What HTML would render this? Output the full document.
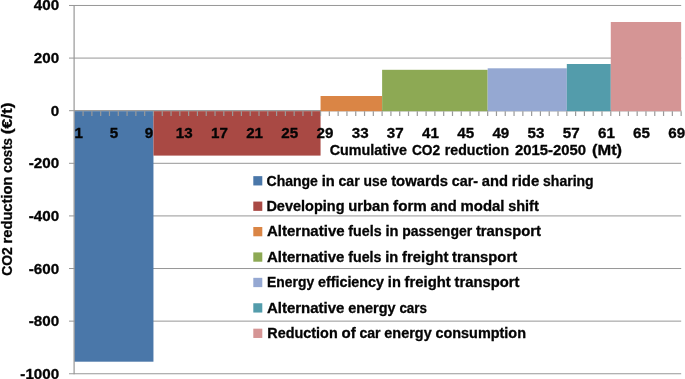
<!DOCTYPE html>
<html><head><meta charset="utf-8"><title>CO2 reduction costs</title>
<style>
html,body{margin:0;padding:0;background:#fff;overflow:hidden;}
svg{display:block;will-change:transform;}
text{font-family:"Liberation Sans",sans-serif;font-weight:bold;fill:#050505;font-size:14.2px;stroke:#050505;stroke-width:0.3px;}
</style></head><body>
<svg width="685" height="379" viewBox="0 0 685 379">
<rect width="685" height="379" fill="#fff"/>

<g stroke="#979797" stroke-width="1" fill="none">
<line x1="69.0" x2="681.2" y1="373.75" y2="373.75"/>
<line x1="69.0" x2="681.2" y1="321.14" y2="321.14"/>
<line x1="69.0" x2="681.2" y1="268.53" y2="268.53"/>
<line x1="69.0" x2="681.2" y1="215.92" y2="215.92"/>
<line x1="69.0" x2="681.2" y1="163.31" y2="163.31"/>
<line x1="69.0" x2="681.2" y1="110.70" y2="110.70"/>
<line x1="69.0" x2="681.2" y1="58.09" y2="58.09"/>
<line x1="69.0" x2="681.2" y1="5.48" y2="5.48"/>
</g>
<line x1="74.3" x2="681.2" y1="110.70" y2="110.70" stroke="#979797" stroke-width="1"/>
<rect x="74.30" y="111.20" width="79.15" height="250.50" fill="#4a77a9"/>
<rect x="153.45" y="111.20" width="167.11" height="44.40" fill="#a94944"/>
<rect x="320.56" y="96.00" width="61.56" height="15.20" fill="#da8545"/>
<rect x="382.12" y="69.80" width="105.54" height="41.40" fill="#8da954"/>
<rect x="487.67" y="68.30" width="79.15" height="42.90" fill="#95a8d2"/>
<rect x="566.82" y="64.00" width="43.98" height="47.20" fill="#539cab"/>
<rect x="610.79" y="22.00" width="70.36" height="89.20" fill="#d59595"/>
<line x1="74.10" x2="74.10" y1="4.98" y2="374.25" stroke="#979797" stroke-width="1.2"/>
<g stroke="#9a9a9a" stroke-width="1.2">
<line x1="83.09" x2="83.09" y1="111.2" y2="116.0"/>
<line x1="91.89" x2="91.89" y1="111.2" y2="116.0"/>
<line x1="100.69" x2="100.69" y1="111.2" y2="116.0"/>
<line x1="109.48" x2="109.48" y1="111.2" y2="116.0"/>
<line x1="118.28" x2="118.28" y1="111.2" y2="116.0"/>
<line x1="127.07" x2="127.07" y1="111.2" y2="116.0"/>
<line x1="135.87" x2="135.87" y1="111.2" y2="116.0"/>
<line x1="144.66" x2="144.66" y1="111.2" y2="116.0"/>
<line x1="153.45" x2="153.45" y1="111.2" y2="116.0"/>
<line x1="162.25" x2="162.25" y1="111.2" y2="116.0"/>
<line x1="171.05" x2="171.05" y1="111.2" y2="116.0"/>
<line x1="179.84" x2="179.84" y1="111.2" y2="116.0"/>
<line x1="188.63" x2="188.63" y1="111.2" y2="116.0"/>
<line x1="197.43" x2="197.43" y1="111.2" y2="116.0"/>
<line x1="206.23" x2="206.23" y1="111.2" y2="116.0"/>
<line x1="215.02" x2="215.02" y1="111.2" y2="116.0"/>
<line x1="223.81" x2="223.81" y1="111.2" y2="116.0"/>
<line x1="232.61" x2="232.61" y1="111.2" y2="116.0"/>
<line x1="241.40" x2="241.40" y1="111.2" y2="116.0"/>
<line x1="250.20" x2="250.20" y1="111.2" y2="116.0"/>
<line x1="259.00" x2="259.00" y1="111.2" y2="116.0"/>
<line x1="267.79" x2="267.79" y1="111.2" y2="116.0"/>
<line x1="276.58" x2="276.58" y1="111.2" y2="116.0"/>
<line x1="285.38" x2="285.38" y1="111.2" y2="116.0"/>
<line x1="294.18" x2="294.18" y1="111.2" y2="116.0"/>
<line x1="302.97" x2="302.97" y1="111.2" y2="116.0"/>
<line x1="311.76" x2="311.76" y1="111.2" y2="116.0"/>
<line x1="320.56" x2="320.56" y1="111.2" y2="116.0"/>
<line x1="329.36" x2="329.36" y1="111.2" y2="116.0"/>
<line x1="338.15" x2="338.15" y1="111.2" y2="116.0"/>
<line x1="346.94" x2="346.94" y1="111.2" y2="116.0"/>
<line x1="355.74" x2="355.74" y1="111.2" y2="116.0"/>
<line x1="364.54" x2="364.54" y1="111.2" y2="116.0"/>
<line x1="373.33" x2="373.33" y1="111.2" y2="116.0"/>
<line x1="382.12" x2="382.12" y1="111.2" y2="116.0"/>
<line x1="390.92" x2="390.92" y1="111.2" y2="116.0"/>
<line x1="399.72" x2="399.72" y1="111.2" y2="116.0"/>
<line x1="408.51" x2="408.51" y1="111.2" y2="116.0"/>
<line x1="417.31" x2="417.31" y1="111.2" y2="116.0"/>
<line x1="426.10" x2="426.10" y1="111.2" y2="116.0"/>
<line x1="434.89" x2="434.89" y1="111.2" y2="116.0"/>
<line x1="443.69" x2="443.69" y1="111.2" y2="116.0"/>
<line x1="452.49" x2="452.49" y1="111.2" y2="116.0"/>
<line x1="461.28" x2="461.28" y1="111.2" y2="116.0"/>
<line x1="470.07" x2="470.07" y1="111.2" y2="116.0"/>
<line x1="478.87" x2="478.87" y1="111.2" y2="116.0"/>
<line x1="487.67" x2="487.67" y1="111.2" y2="116.0"/>
<line x1="496.46" x2="496.46" y1="111.2" y2="116.0"/>
<line x1="505.25" x2="505.25" y1="111.2" y2="116.0"/>
<line x1="514.05" x2="514.05" y1="111.2" y2="116.0"/>
<line x1="522.85" x2="522.85" y1="111.2" y2="116.0"/>
<line x1="531.64" x2="531.64" y1="111.2" y2="116.0"/>
<line x1="540.43" x2="540.43" y1="111.2" y2="116.0"/>
<line x1="549.23" x2="549.23" y1="111.2" y2="116.0"/>
<line x1="558.02" x2="558.02" y1="111.2" y2="116.0"/>
<line x1="566.82" x2="566.82" y1="111.2" y2="116.0"/>
<line x1="575.62" x2="575.62" y1="111.2" y2="116.0"/>
<line x1="584.41" x2="584.41" y1="111.2" y2="116.0"/>
<line x1="593.20" x2="593.20" y1="111.2" y2="116.0"/>
<line x1="602.00" x2="602.00" y1="111.2" y2="116.0"/>
<line x1="610.79" x2="610.79" y1="111.2" y2="116.0"/>
<line x1="619.59" x2="619.59" y1="111.2" y2="116.0"/>
<line x1="628.38" x2="628.38" y1="111.2" y2="116.0"/>
<line x1="637.18" x2="637.18" y1="111.2" y2="116.0"/>
<line x1="645.97" x2="645.97" y1="111.2" y2="116.0"/>
<line x1="654.77" x2="654.77" y1="111.2" y2="116.0"/>
<line x1="663.56" x2="663.56" y1="111.2" y2="116.0"/>
<line x1="672.36" x2="672.36" y1="111.2" y2="116.0"/>
<line x1="681.15" x2="681.15" y1="111.2" y2="116.0"/>
</g>
<g>
<g text-anchor="middle">
<text x="78.70" y="137.5" textLength="8.44" lengthAdjust="spacingAndGlyphs">1</text>
<text x="113.88" y="137.5" textLength="8.44" lengthAdjust="spacingAndGlyphs">5</text>
<text x="149.06" y="137.5" textLength="8.44" lengthAdjust="spacingAndGlyphs">9</text>
<text x="184.24" y="137.5" textLength="16.88" lengthAdjust="spacingAndGlyphs">13</text>
<text x="219.42" y="137.5" textLength="16.88" lengthAdjust="spacingAndGlyphs">17</text>
<text x="254.60" y="137.5" textLength="16.88" lengthAdjust="spacingAndGlyphs">21</text>
<text x="289.78" y="137.5" textLength="16.88" lengthAdjust="spacingAndGlyphs">25</text>
<text x="324.96" y="137.5" textLength="16.88" lengthAdjust="spacingAndGlyphs">29</text>
<text x="360.14" y="137.5" textLength="16.88" lengthAdjust="spacingAndGlyphs">33</text>
<text x="395.32" y="137.5" textLength="16.88" lengthAdjust="spacingAndGlyphs">37</text>
<text x="430.50" y="137.5" textLength="16.88" lengthAdjust="spacingAndGlyphs">41</text>
<text x="465.68" y="137.5" textLength="16.88" lengthAdjust="spacingAndGlyphs">45</text>
<text x="500.86" y="137.5" textLength="16.88" lengthAdjust="spacingAndGlyphs">49</text>
<text x="536.04" y="137.5" textLength="16.88" lengthAdjust="spacingAndGlyphs">53</text>
<text x="571.22" y="137.5" textLength="16.88" lengthAdjust="spacingAndGlyphs">57</text>
<text x="606.40" y="137.5" textLength="16.88" lengthAdjust="spacingAndGlyphs">61</text>
<text x="641.58" y="137.5" textLength="16.88" lengthAdjust="spacingAndGlyphs">65</text>
<text x="676.76" y="137.5" textLength="16.88" lengthAdjust="spacingAndGlyphs">69</text>
</g>
<g text-anchor="end">
<text x="59.2" y="378.75" textLength="38.85" lengthAdjust="spacingAndGlyphs">-1000</text>
<text x="59.2" y="326.14" textLength="30.41" lengthAdjust="spacingAndGlyphs">-800</text>
<text x="59.2" y="273.53" textLength="30.41" lengthAdjust="spacingAndGlyphs">-600</text>
<text x="59.2" y="220.92" textLength="30.41" lengthAdjust="spacingAndGlyphs">-400</text>
<text x="59.2" y="168.31" textLength="30.41" lengthAdjust="spacingAndGlyphs">-200</text>
<text x="59.2" y="115.70" textLength="8.44" lengthAdjust="spacingAndGlyphs">0</text>
<text x="59.2" y="63.09" textLength="25.32" lengthAdjust="spacingAndGlyphs">200</text>
<text x="59.2" y="10.48" textLength="25.32" lengthAdjust="spacingAndGlyphs">400</text>
</g>
<text x="329.70" y="154.50" textLength="77.20" lengthAdjust="spacingAndGlyphs">Cumulative</text>
<text x="411.90" y="154.50" textLength="28.30" lengthAdjust="spacingAndGlyphs">CO2</text>
<text x="444.80" y="154.50" textLength="64.30" lengthAdjust="spacingAndGlyphs">reduction</text>
<text x="514.90" y="154.50" textLength="71.10" lengthAdjust="spacingAndGlyphs">2015-2050</text>
<text x="592.00" y="154.50" textLength="30.10" lengthAdjust="spacingAndGlyphs">(Mt)</text>
<g transform="translate(12.4,275.4) rotate(-90)">
<text x="-0.40" y="0.00" textLength="28.55" lengthAdjust="spacingAndGlyphs">CO2</text>
<text x="31.92" y="0.00" textLength="66.99" lengthAdjust="spacingAndGlyphs">reduction</text>
<text x="102.68" y="0.00" textLength="34.75" lengthAdjust="spacingAndGlyphs">costs</text>
<text x="141.19" y="0.00" textLength="31.81" lengthAdjust="spacingAndGlyphs">(€/t)</text>
</g>
<rect x="253.3" y="176.15" width="9" height="9.3" fill="#4a77a9"/>
<text x="266.55" y="185.50" textLength="51.35" lengthAdjust="spacingAndGlyphs">Change</text>
<text x="321.68" y="185.50" textLength="13.07" lengthAdjust="spacingAndGlyphs">in</text>
<text x="338.53" y="185.50" textLength="21.17" lengthAdjust="spacingAndGlyphs">car</text>
<text x="363.47" y="185.50" textLength="23.90" lengthAdjust="spacingAndGlyphs">use</text>
<text x="391.15" y="185.50" textLength="56.89" lengthAdjust="spacingAndGlyphs">towards</text>
<text x="451.81" y="185.50" textLength="26.29" lengthAdjust="spacingAndGlyphs">car-</text>
<text x="481.87" y="185.50" textLength="26.20" lengthAdjust="spacingAndGlyphs">and</text>
<text x="511.85" y="185.50" textLength="27.40" lengthAdjust="spacingAndGlyphs">ride</text>
<text x="543.03" y="185.50" textLength="50.67" lengthAdjust="spacingAndGlyphs">sharing</text>
<rect x="253.3" y="201.57" width="9" height="9.3" fill="#a94944"/>
<text x="266.40" y="210.92" textLength="78.13" lengthAdjust="spacingAndGlyphs">Developing</text>
<text x="348.30" y="210.92" textLength="41.03" lengthAdjust="spacingAndGlyphs">urban</text>
<text x="393.09" y="210.92" textLength="33.76" lengthAdjust="spacingAndGlyphs">form</text>
<text x="430.63" y="210.92" textLength="26.15" lengthAdjust="spacingAndGlyphs">and</text>
<text x="460.55" y="210.92" textLength="43.85" lengthAdjust="spacingAndGlyphs">modal</text>
<text x="508.17" y="210.92" textLength="30.63" lengthAdjust="spacingAndGlyphs">shift</text>
<rect x="253.3" y="226.99" width="9" height="9.3" fill="#da8545"/>
<text x="266.90" y="236.34" textLength="77.71" lengthAdjust="spacingAndGlyphs">Alternative</text>
<text x="348.39" y="236.34" textLength="33.27" lengthAdjust="spacingAndGlyphs">fuels</text>
<text x="385.43" y="236.34" textLength="13.07" lengthAdjust="spacingAndGlyphs">in</text>
<text x="402.27" y="236.34" textLength="69.86" lengthAdjust="spacingAndGlyphs">passenger</text>
<text x="475.90" y="236.34" textLength="65.10" lengthAdjust="spacingAndGlyphs">transport</text>
<rect x="253.3" y="252.41" width="9" height="9.3" fill="#8da954"/>
<text x="266.90" y="261.76" textLength="77.58" lengthAdjust="spacingAndGlyphs">Alternative</text>
<text x="348.25" y="261.76" textLength="33.22" lengthAdjust="spacingAndGlyphs">fuels</text>
<text x="385.23" y="261.76" textLength="13.04" lengthAdjust="spacingAndGlyphs">in</text>
<text x="402.05" y="261.76" textLength="46.30" lengthAdjust="spacingAndGlyphs">freight</text>
<text x="452.11" y="261.76" textLength="64.99" lengthAdjust="spacingAndGlyphs">transport</text>
<rect x="253.3" y="277.83" width="9" height="9.3" fill="#95a8d2"/>
<text x="267.10" y="287.18" textLength="47.06" lengthAdjust="spacingAndGlyphs">Energy</text>
<text x="317.92" y="287.18" textLength="66.15" lengthAdjust="spacingAndGlyphs">efficiency</text>
<text x="387.83" y="287.18" textLength="13.02" lengthAdjust="spacingAndGlyphs">in</text>
<text x="404.60" y="287.18" textLength="46.20" lengthAdjust="spacingAndGlyphs">freight</text>
<text x="454.56" y="287.18" textLength="64.84" lengthAdjust="spacingAndGlyphs">transport</text>
<rect x="253.3" y="303.25" width="9" height="9.3" fill="#539cab"/>
<text x="266.90" y="312.60" textLength="77.55" lengthAdjust="spacingAndGlyphs">Alternative</text>
<text x="348.21" y="312.60" textLength="47.40" lengthAdjust="spacingAndGlyphs">energy</text>
<text x="399.38" y="312.60" textLength="27.62" lengthAdjust="spacingAndGlyphs">cars</text>
<rect x="253.3" y="328.67" width="9" height="9.3" fill="#d59595"/>
<text x="267.35" y="338.02" textLength="70.34" lengthAdjust="spacingAndGlyphs">Reduction</text>
<text x="341.45" y="338.02" textLength="14.22" lengthAdjust="spacingAndGlyphs">of</text>
<text x="359.44" y="338.02" textLength="21.10" lengthAdjust="spacingAndGlyphs">car</text>
<text x="384.30" y="338.02" textLength="47.37" lengthAdjust="spacingAndGlyphs">energy</text>
<text x="435.43" y="338.02" textLength="90.57" lengthAdjust="spacingAndGlyphs">consumption</text>
</g>
</svg>
</body></html>
